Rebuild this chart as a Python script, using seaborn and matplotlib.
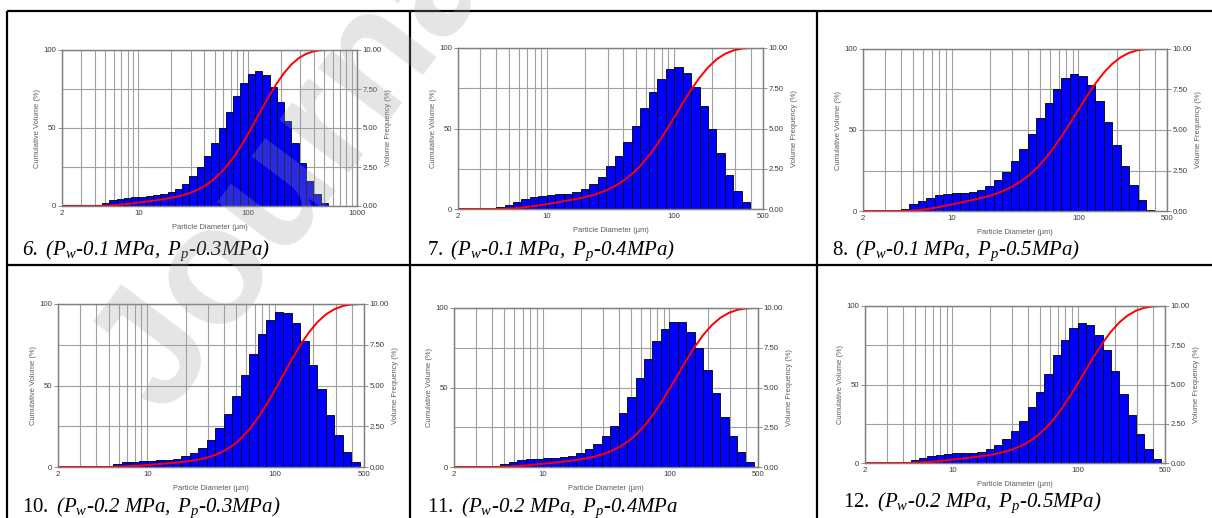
import numpy as np
import matplotlib
matplotlib.use("Agg")
import matplotlib.pyplot as plt
from matplotlib.lines import Line2D
from matplotlib.ticker import FixedLocator, LogLocator, NullFormatter
import seaborn as sns

# Particle size classes (µm): 15 classes per decade
size_edges_um = [3.981, 4.642, 5.412, 6.310, 7.356, 8.577, 10.00, 11.66, 13.59, 15.85,
                 18.48, 21.54, 25.12, 29.29, 34.15, 39.81, 46.42, 54.12, 63.10, 73.56,
                 85.77, 100.0, 116.6, 135.9, 158.5, 184.8, 215.4, 251.2, 292.9, 341.5,
                 398.1, 464.2, 541.2]

# Volume frequency (%) in each size class
freq_6 = [0.09, 0.20, 0.36, 0.45, 0.51, 0.56, 0.60, 0.62, 0.68, 0.77, 0.88, 1.11, 1.43, 1.92,
          2.48, 3.20, 4.06, 5.02, 6.03, 7.03, 7.86, 8.46, 8.63, 8.38, 7.60, 6.69, 5.43, 4.02,
          2.74, 1.60, 0.75, 0.17]
freq_7 = [0.14, 0.27, 0.45, 0.64, 0.74, 0.82, 0.89, 0.91, 0.93, 1.03, 1.22, 1.55, 2.00, 2.64,
          3.32, 4.14, 5.15, 6.25, 7.24, 8.08, 8.68, 8.82, 8.45, 7.59, 6.39, 4.99, 3.48, 2.14,
          1.09, 0.41, 0.00, 0.00]
freq_8 = [0.12, 0.43, 0.60, 0.83, 0.99, 1.07, 1.12, 1.12, 1.16, 1.28, 1.55, 1.90, 2.42, 3.08,
          3.82, 4.73, 5.74, 6.67, 7.52, 8.18, 8.47, 8.35, 7.75, 6.80, 5.48, 4.09, 2.77, 1.59,
          0.70, 0.08, 0.00, 0.00]
freq_10 = [0.00, 0.06, 0.18, 0.29, 0.33, 0.37, 0.39, 0.41, 0.45, 0.51, 0.66, 0.86, 1.17, 1.68,
           2.38, 3.24, 4.35, 5.65, 6.92, 8.15, 9.01, 9.51, 9.43, 8.81, 7.74, 6.28, 4.76, 3.22,
           1.95, 0.92, 0.31, 0.00]
freq_11 = [0.08, 0.19, 0.31, 0.44, 0.48, 0.52, 0.54, 0.56, 0.63, 0.71, 0.86, 1.11, 1.46, 1.92,
           2.57, 3.40, 4.43, 5.60, 6.78, 7.93, 8.71, 9.14, 9.10, 8.50, 7.49, 6.10, 4.63, 3.17,
           1.92, 0.94, 0.29, 0.00]
freq_12 = [0.08, 0.19, 0.32, 0.42, 0.51, 0.57, 0.62, 0.62, 0.66, 0.72, 0.87, 1.17, 1.53, 2.02,
           2.70, 3.57, 4.54, 5.69, 6.86, 7.86, 8.60, 8.92, 8.77, 8.13, 7.18, 5.84, 4.42, 3.04,
           1.85, 0.89, 0.25, 0.00]

# Diameter axis ranges and labelled ticks
x_max = [1000, 500, 500, 500, 500, 500]
x_ticks = [[2, 10, 100, 1000], [2, 10, 100, 500], [2, 10, 100, 500],
           [2, 10, 100, 500], [2, 10, 100, 500], [2, 10, 100, 500]]

# Sample captions (water pressure P_w, pulse pressure P_p)
captions = [
    r"$6.\ (P_w\text{-}0.1\ MPa,\ P_p\text{-}0.3MPa)$",
    r"$\mathsf{7.}\ (P_w\text{-}0.1\ MPa,\ P_p\text{-}0.4MPa)$",
    r"$\mathsf{8.}\ (P_w\text{-}0.1\ MPa,\ P_p\text{-}0.5MPa)$",
    r"$\mathsf{10.}\ (P_w\text{-}0.2\ MPa,\ P_p\text{-}0.3MPa)$",
    r"$\mathsf{11.}\ (P_w\text{-}0.2\ MPa,\ P_p\text{-}0.4MPa$",
    r"$\mathsf{12.}\ (P_w\text{-}0.2\ MPa,\ P_p\text{-}0.5MPa)$",
]
frequencies = [freq_6, freq_7, freq_8, freq_10, freq_11, freq_12]

sns.set_style("white")
plt.rcParams["font.family"] = ["Liberation Sans", "DejaVu Sans"]
plt.rcParams["mathtext.fontset"] = "custom"
plt.rcParams["mathtext.rm"] = "Liberation Serif:italic"
plt.rcParams["mathtext.it"] = "Liberation Serif:italic"
plt.rcParams["mathtext.sf"] = "Liberation Serif"
plt.rcParams["mathtext.bf"] = "Liberation Serif:bold"

W, H = 1212, 518
fig = plt.figure(figsize=(W / 100, H / 100), dpi=100)
fig.patch.set_facecolor("white")

# Axes boxes in pixels: left, top, right, bottom
boxes = [(62, 50, 357, 206), (458, 48, 763, 209), (863, 49, 1167, 211),
         (58, 304, 364, 467), (454, 308, 758, 467), (865, 306, 1165, 463)]
caption_pos = [(22, 251), (427, 251), (832, 251), (22, 508), (427, 508), (843, 503)]

edges = np.array(size_edges_um)
centers = np.sqrt(edges[:-1] * edges[1:])
grid_c = "#a0a0a0"
spine_c = "#808080"
tick_c = "#3c3c3c"
label_c = "#5a5a5a"

for i, freq in enumerate(frequencies):
    l, t, r, b = boxes[i]
    ax = fig.add_axes([l / W, 1 - b / H, (r - l) / W, (b - t) / H])
    f = np.array(freq)
    nz = np.nonzero(f)[0]
    lo, hi = nz[0], nz[-1]
    sns.histplot(x=list(centers[lo:hi + 1]), weights=list(f[lo:hi + 1]),
                 bins=[float(v) for v in np.log10(edges[lo:hi + 2])],
                 log_scale=True, stat="count",
                 color="#0000ff", edgecolor="black", linewidth=0.6, alpha=1,
                 ax=ax, zorder=2)
    ax.set_xlim(2, x_max[i])
    ax.set_ylim(0, 10)
    ax.set_axisbelow(True)
    ax.xaxis.set_major_locator(FixedLocator(x_ticks[i]))
    ax.set_xticklabels([str(v) for v in x_ticks[i]])
    ax.xaxis.set_minor_locator(LogLocator(base=10, subs=np.arange(2, 10), numticks=20))
    ax.xaxis.set_minor_formatter(NullFormatter())
    ax.set_yticks([0, 2.5, 5, 7.5, 10])
    ax.set_yticklabels(["0.00", "2.50", "5.00", "7.50", "10.00"])
    ax.grid(True, which="both", axis="x", color=grid_c, lw=0.8)
    ax.grid(True, which="major", axis="y", color=grid_c, lw=0.8)
    ax.set_xlabel("Particle Diameter (µm)", fontsize=5.4, color=label_c, labelpad=5)

    # Cumulative volume curve on the left axis
    cum = np.concatenate([[0.0], np.cumsum(f)])
    cum = cum / cum[-1] * 100
    ax_c = ax.twinx()
    cx = np.concatenate([[2.0], edges, [x_max[i]]])
    cy = np.concatenate([[0.0], cum, [100.0]])
    keep = cx <= x_max[i]
    sns.lineplot(x=list(cx[keep]), y=list(cy[keep]), color="#ff0000", lw=1.4, ax=ax_c, sort=True)
    ax_c.set_ylim(0, 100)
    ax_c.set_xlim(2, x_max[i])
    ax_c.set_yticks([0, 50, 100])
    ax_c.set_yticklabels(["0", "50", "100"])
    ax_c.yaxis.tick_left()
    ax_c.yaxis.set_label_position("left")
    ax_c.tick_params(axis="y", length=3, width=0.6, color=spine_c, pad=1,
                     labelsize=5.6, labelcolor=tick_c)
    ax_c.set_ylabel("Cumulative Volume (%)", fontsize=5.4, color=label_c, labelpad=1.5)
    ax_c.set_xlabel("")

    # Frequency scale on the right
    ax.yaxis.tick_right()
    ax.yaxis.set_label_position("right")
    ax.tick_params(axis="x", which="both", length=0, pad=3, labelsize=5.6, labelcolor=tick_c)
    ax.tick_params(axis="y", length=3, width=0.6, color=spine_c, pad=1,
                   labelsize=5.6, labelcolor=tick_c)
    ax.set_ylabel("Volume Frequency (%)", fontsize=5.4, color=label_c, labelpad=2)

    for a in (ax, ax_c):
        for s in a.spines.values():
            s.set_color(spine_c)
            s.set_linewidth(0.9)

    cxp, cyp = caption_pos[i]
    fig.text(cxp / W, 1 - cyp / H, captions[i], fontsize=15, ha="left", va="center",
             color="black")

# Table rules
rule_kw = dict(color="black", lw=1.6, transform=fig.transFigure, solid_capstyle="butt")
for x0, y0, x1, y1 in [(7, 11, W, 11), (7, 265, W, 265), (7, 11, 7, H),
                       (410, 11, 410, H), (817, 11, 817, H)]:
    fig.add_artist(Line2D([x0 / W, x1 / W], [1 - y0 / H, 1 - y1 / H], **rule_kw))

# Watermark
fig.text(165 / W, 1 - 418 / H, "Journal Pre-proof", rotation=53, rotation_mode="anchor",
         ha="left", va="baseline", fontsize=120, fontweight="bold", color="#a0a0a0",
         alpha=0.27, family="Liberation Sans", zorder=10)

fig.savefig("out.png", dpi=100, facecolor="white")
